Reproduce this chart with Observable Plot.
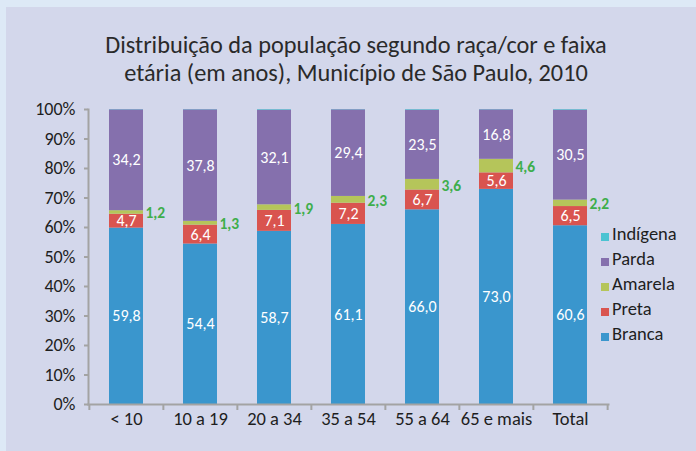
<!DOCTYPE html>
<html><head><meta charset="utf-8">
<script src="https://cdn.jsdelivr.net/npm/d3@7"></script>
<script src="https://cdn.jsdelivr.net/npm/@observablehq/plot@0.6"></script>
<style>
body{margin:0;background:#dde9f6;width:696px;height:451px;overflow:hidden;position:relative;font-family:Carlito,Calibri,Lato,sans-serif;}
#panel{position:absolute;left:6px;top:7px;right:0;bottom:0;background:#d3d7eb;}
#title{position:absolute;left:6px;width:700px;top:31px;text-align:center;font-size:24.3px;line-height:28px;color:#2a2a2a;}
#chart{position:absolute;left:0;top:0;}
#legend{position:absolute;left:601px;top:221px;font-size:18.5px;color:#1e1e1e;}
#legend div{height:25px;line-height:25px;white-space:nowrap;}
#legend span{display:inline-block;width:8px;height:8px;margin-right:3px;vertical-align:middle;position:relative;top:1px;}
</style></head>
<body>
<div id="panel"></div>
<div id="title">Distribuição da população segundo raça/cor e faixa<br>etária (em anos), Município de São Paulo, 2010</div>
<div id="chart"></div>
<div id="legend"></div>
<script>
const categories = ["< 10", "10 a 19", "20 a 34", "35 a 54", "55 a 64", "65 e mais", "Total"];
const racas = ["Branca", "Preta", "Amarela", "Parda", "Indígena"];
const branca   = [59.8, 54.4, 58.7, 61.1, 66.0, 73.0, 60.6];
const preta    = [4.7, 6.4, 7.1, 7.2, 6.7, 5.6, 6.5];
const amarela  = [1.2, 1.3, 1.9, 2.3, 3.6, 4.6, 2.2];
const parda    = [34.2, 37.8, 32.1, 29.4, 23.5, 16.8, 30.5];
const indigena = [0.1, 0.1, 0.2, 0.1, 0.2, 0.1, 0.2];
const colors = ["#3a96cd", "#d9544f", "#b5c55a", "#8570ad", "#4bc3d2"];
const yTicks = [0, 0.1, 0.2, 0.3, 0.4, 0.5, 0.6, 0.7, 0.8, 0.9, 1];

const series = [branca, preta, amarela, parda, indigena];
const data = [];
categories.forEach((c, i) => racas.forEach((r, j) => data.push({cat: c, raca: r, v: series[j][i]})));
const fmt = v => d3.format(".1f")(v).replace(".", ",");

const W = 696, H = 451, ML = 88, MR = 88;
const step = (W - ML - MR) / categories.length;
const stack = {x: "cat", y: "v", z: "raca", offset: "normalize", order: racas};
const axisColor = "#a3a3a3";

const plot = Plot.plot({
  width: W, height: H,
  marginLeft: ML, marginRight: MR, marginTop: 109, marginBottom: 47,
  style: {background: "transparent", fontFamily: "Carlito, Calibri, Lato, sans-serif", fontSize: "16px", color: "#1e1e1e"},
  x: {domain: categories, paddingInner: 0.54, paddingOuter: 0.27, label: null},
  y: {domain: [0, 1], label: null},
  color: {domain: racas, range: colors},
  marks: [
    Plot.barY(data, Plot.stackY({...stack, fill: "raca"})),
    Plot.text(data, Plot.stackY({...stack, text: d => (d.raca === "Branca" || d.raca === "Preta" || d.raca === "Parda") ? fmt(d.v) : null, fill: "white", fontSize: 16})),
    Plot.text(data, Plot.stackY({...stack, text: d => d.raca === "Amarela" ? fmt(d.v) : null, fill: "#3eae4b", fontWeight: "bold", fontSize: 15.5, textAnchor: "start", dx: 19, dy: 1})),
    Plot.axisY({ticks: yTicks, tickFormat: d3.format(".0%"), tickSize: 4, tickPadding: 9, stroke: axisColor, strokeWidth: 2, fontSize: 18, label: null}),
    Plot.axisX({tickSize: 0, tickPadding: 7, fontSize: 18.5, label: null}),
    Plot.ruleX(categories, {x: d => d, dx: -step / 2, y1: 0, y2: 0, insetBottom: -6, stroke: axisColor, strokeWidth: 2}),
    Plot.ruleX(categories.slice(-1), {x: d => d, dx: step / 2, y1: 0, y2: 0, insetBottom: -6, stroke: axisColor, strokeWidth: 2}),
    Plot.frame({anchor: "left", stroke: axisColor, strokeWidth: 2}),
    Plot.frame({anchor: "bottom", stroke: axisColor, strokeWidth: 2})
  ]
});
document.getElementById("chart").appendChild(plot);

const legend = document.getElementById("legend");
racas.slice().reverse().forEach(r => {
  const row = document.createElement("div");
  const sw = document.createElement("span");
  sw.style.background = colors[racas.indexOf(r)];
  row.appendChild(sw);
  row.appendChild(document.createTextNode(r));
  legend.appendChild(row);
});
</script>
</body></html>
